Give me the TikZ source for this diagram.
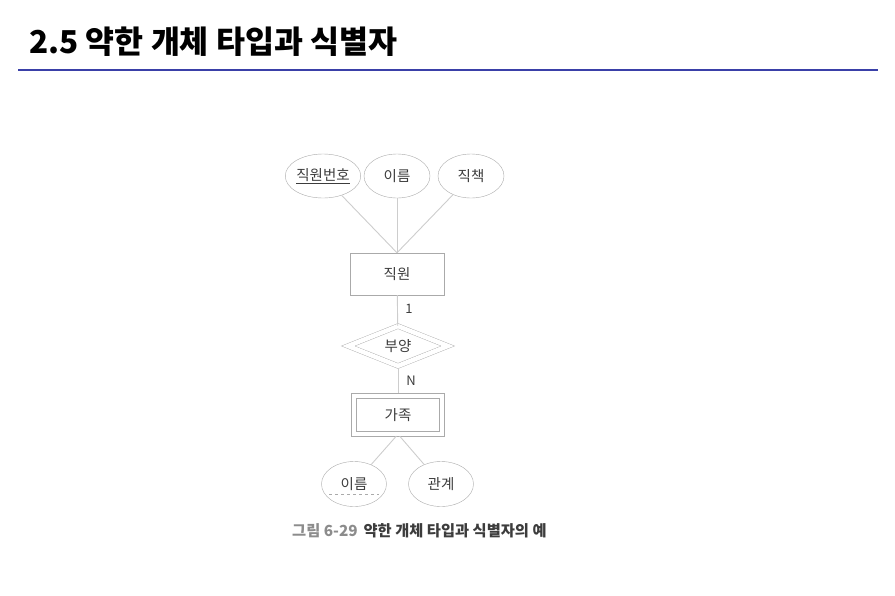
\documentclass[tikz,border=0pt]{standalone}
\usepackage{fontspec}
\newfontfamily\kr{Noto Sans CJK KR}
\usetikzlibrary{shapes.geometric}
\definecolor{rulecol}{RGB}{58,64,168}
\definecolor{linecol}{RGB}{205,205,205}
\definecolor{boxcol}{RGB}{170,170,170}
\definecolor{txtcol}{RGB}{60,60,60}
\definecolor{capgray}{RGB}{140,140,140}

\begin{document}
\begin{tikzpicture}[x=1pt, y=-1pt,
    attr/.style={ellipse, draw=boxcol, inner sep=0pt, minimum width=66pt, minimum height=44pt, text=txtcol, font=\kr\fontsize{14.5}{16}\selectfont},
    entity/.style={rectangle, draw=boxcol, inner sep=0pt, minimum width=94pt, minimum height=42pt, text=txtcol, font=\kr\fontsize{14.5}{16}\selectfont},
    weakentity/.style={rectangle, draw=boxcol, double=white, double distance=4.5pt, inner sep=0pt, minimum width=88pt, minimum height=38pt, text=txtcol, font=\kr\fontsize{14.5}{16}\selectfont},
    weakrel/.style={diamond, draw=boxcol, double=white, double distance=4.5pt, inner sep=0pt, minimum width=100pt, minimum height=40pt, text=txtcol, font=\kr\fontsize{14.5}{16}\selectfont},
    card/.style={text=txtcol, font=\kr\fontsize{13}{15}\selectfont},
    link/.style={draw=linecol, line width=0.9pt}]
    \useasboundingbox (0,0) rectangle (895,595);

    % title and rule
    \node[anchor=west, inner sep=0pt, font=\kr\bfseries\fontsize{31.5}{34}\selectfont] (title) at (29,42) {2.5 약한 개체 타입과 식별자};
    \draw[rulecol, line width=2pt] (18,70) -- (878,70);

    % employee and its attributes
    \node[attr] (empno) at (323,176) {\underline{직원번호}};
    \node[attr] (empname) at (397,176) {이름};
    \node[attr] (emptitle) at (471,176) {직책};
    \node[entity] (emp) at (397,274) {직원};

    % identifying relationship and weak entity
    \node[weakrel] (support) at (398,346) {부양};
    \node[weakentity] (family) at (398,415) {가족};
    \node[card] (one) at (409,309) {1};
    \node[card] (many) at (411,381) {N};

    % attributes of the weak entity
    \node[attr, minimum width=65pt, minimum height=45pt] (famname) at (354,484) {이름};
    \node[attr, minimum width=65pt, minimum height=45pt] (relation) at (441,484) {관계};
    \draw[boxcol, dashed, line width=0.6pt] ([xshift=-25pt, yshift=-10pt]famname.center) -- ([xshift=25pt, yshift=-10pt]famname.center);

    \draw[link] (empno) -- (emp.north);
    \draw[link] (empname) -- (emp.north);
    \draw[link] (emptitle) -- (emp.north);
    \draw[link] (emp) -- (support);
    \draw[link, shorten >=2.5pt, shorten <=2.5pt] (support) -- (family);
    \draw[link, shorten <=2.5pt] (family.south) -- (famname);
    \draw[link, shorten <=2.5pt] (family.south) -- (relation);

    % caption
    \node[anchor=west, inner sep=0pt, font=\kr\bfseries\fontsize{15.3}{18}\selectfont] (caption) at (292,531) {\textcolor{capgray}{그림 6-29}\hspace{6pt}\textcolor{txtcol}{약한 개체 타입과 식별자의 예}};
\end{tikzpicture}
\end{document}
